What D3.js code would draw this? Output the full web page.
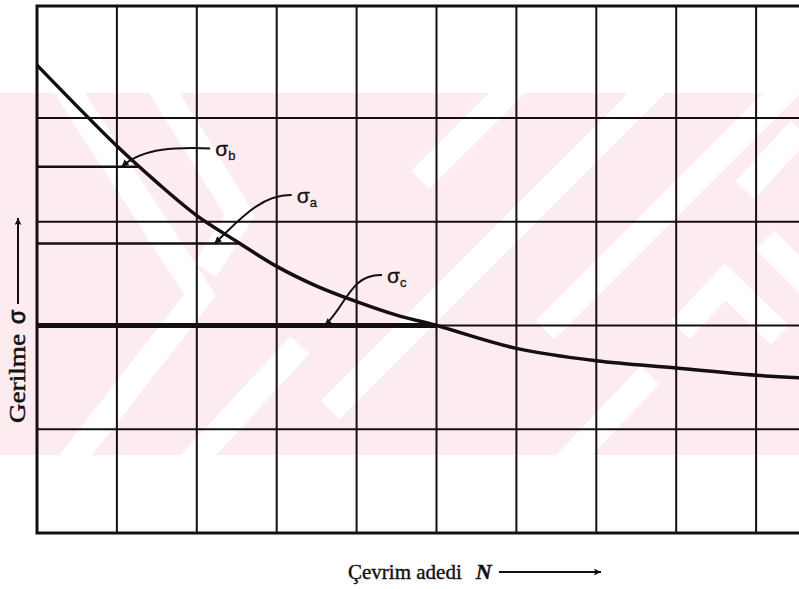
<!DOCTYPE html>
<html>
<head>
<meta charset="utf-8">
<script src="https://cdn.jsdelivr.net/npm/d3@7"></script>
<style>
  html, body { margin: 0; padding: 0; background: #ffffff; }
  svg { display: block; }
</style>
</head>
<body>
<svg id="chart" width="799" height="589"></svg>
<script>
// Fatigue (S-N) curve: stress against number of cycles
const cycles = [0, 1, 1.5, 2, 2.5, 3, 3.5, 4, 4.5, 5, 6, 7, 8, 9, 10];
const stress = [4.51, 3.73, 3.38, 3.06, 2.81, 2.57, 2.38, 2.23, 2.1, 2.0, 1.78, 1.66, 1.59, 1.52, 1.48];

// grid divisions
const xTicks = [0, 1, 2, 3, 4, 5, 6, 7, 8, 9, 10];
const yTicks = [0, 1, 2, 3, 4];

// stress levels marked on the curve
const levelNames = ["b", "a", "c"];
const levelValues = [3.53, 2.79, 2.0];

// label anchors (in cycles / stress units) and leader tips
const labelN = [2.23, 3.25, 4.38];
const labelS = [3.63, 3.18, 2.41];
const tipN = [1.06, 2.22, 3.6];

const W = 799, H = 589;
const svg = d3.select("#chart");

const x = d3.scaleLinear().domain([0, 10]).range([37, 836]);
const y = d3.scaleLinear().domain([0, 5.08]).range([533, 6]);

const ink = "#141010";

// ---- faint background pattern band ----
const defs = svg.append("defs");
defs.append("clipPath").attr("id", "band")
  .append("rect").attr("x", 0).attr("y", 93).attr("width", W).attr("height", 362);

const wm = svg.append("g").attr("clip-path", "url(#band)");
wm.append("rect").attr("x", 0).attr("y", 93).attr("width", W).attr("height", 362)
  .attr("fill", "#fdecef");
const stripes = [
  [[58, 75], [200, 295], [58, 478]],
  [[150, 70], [240, 215], [205, 270]],
  [[180, 475], [300, 345]],
  [[660, 80], [425, 315], [330, 410]],
  [[520, 80], [420, 180]],
  [[795, 80], [545, 330]],
  [[560, 470], [650, 375]],
  [[680, 330], [725, 282], [780, 335]],
  [[765, 240], [810, 285]],
  [[745, 190], [800, 130]]
];
wm.selectAll("path.stripe").data(stripes).join("path")
  .attr("class", "stripe")
  .attr("d", d3.line())
  .attr("fill", "none")
  .attr("stroke", "#ffffff")
  .attr("stroke-width", 26)
  .attr("stroke-linejoin", "miter");

// ---- grid ----
const grid = svg.append("g").attr("stroke", ink).attr("fill", "none");
grid.selectAll("line.v").data(xTicks.slice(1)).join("line")
  .attr("class", "v")
  .attr("x1", d => x(d)).attr("x2", d => x(d))
  .attr("y1", y(5.08)).attr("y2", y(0))
  .attr("stroke-width", 2);
grid.selectAll("line.h").data(yTicks.slice(1)).join("line")
  .attr("class", "h")
  .attr("x1", x(0)).attr("x2", W)
  .attr("y1", d => y(d)).attr("y2", d => y(d))
  .attr("stroke-width", 2);
// frame: top, left, bottom
grid.append("path")
  .attr("d", `M${W},${y(5.08)} H${x(0)} V${y(0)} H${W}`)
  .attr("stroke-width", 3);

// ---- curve ----
const pts = cycles.map((c, i) => [c, stress[i]]);
const line = d3.line().x(d => x(d[0])).y(d => y(d[1])).curve(d3.curveCatmullRom.alpha(0.5));
svg.append("path").datum(pts)
  .attr("d", line)
  .attr("fill", "none")
  .attr("stroke", ink)
  .attr("stroke-width", 3.5);

// cycles at which the curve reaches a given stress
function crossing(s) {
  for (let i = 0; i < pts.length - 1; i++) {
    const [c0, s0] = pts[i], [c1, s1] = pts[i + 1];
    if ((s0 - s) * (s1 - s) <= 0) return c0 + (s - s0) / (s1 - s0) * (c1 - c0);
  }
  return 0;
}

// ---- stress level lines ----
const levels = levelNames.map((n, i) => ({
  name: n, value: levelValues[i], lx: labelN[i], ly: labelS[i], tip: tipN[i]
}));
svg.selectAll("line.level").data(levels).join("line")
  .attr("class", "level")
  .attr("x1", x(0)).attr("x2", d => x(crossing(d.value)))
  .attr("y1", d => y(d.value)).attr("y2", d => y(d.value))
  .attr("stroke", ink)
  .attr("stroke-width", d => d.name === "c" ? 5 : 2.5);

// ---- arrowheads ----
defs.append("marker").attr("id", "head")
  .attr("viewBox", "0 0 10 10").attr("refX", 10).attr("refY", 5)
  .attr("markerWidth", 14).attr("markerHeight", 7)
  .attr("markerUnits", "userSpaceOnUse")
  .attr("orient", "auto")
  .append("path").attr("d", "M0,0 L10,5 L0,10 Z").attr("fill", ink);
defs.append("marker").attr("id", "headLong")
  .attr("viewBox", "0 0 10 10").attr("refX", 10).attr("refY", 5)
  .attr("markerWidth", 18).attr("markerHeight", 7)
  .attr("markerUnits", "userSpaceOnUse")
  .attr("orient", "auto")
  .append("path").attr("d", "M0,0 L10,5 L0,10 L2,5 Z").attr("fill", ink);

// leaders from labels to their level lines
svg.selectAll("path.leader").data(levels).join("path")
  .attr("class", "leader")
  .attr("d", d => {
    const sx = x(d.lx) - 5, sy = y(d.ly) - 8;
    const ex = x(d.tip), ey = y(d.value);
    return `M${sx},${sy} C${sx - 32},${sy - 1} ${ex + 22},${ey - 20} ${ex},${ey}`;
  })
  .attr("fill", "none")
  .attr("stroke", ink)
  .attr("stroke-width", 2)
  .attr("marker-end", "url(#head)");

// labels σ with subscripts
const lab = svg.selectAll("text.sig").data(levels).join("text")
  .attr("class", "sig")
  .attr("x", d => x(d.lx)).attr("y", d => y(d.ly))
  .attr("font-family", "Liberation Sans, Arial, sans-serif")
  .attr("font-size", 21)
  .attr("fill", ink)
  .attr("stroke", ink).attr("stroke-width", 0.3);
lab.append("tspan").text("σ");
lab.append("tspan").attr("dy", 4).attr("font-size", 13).text(d => d.name);

// ---- axis titles ----
const yt = svg.append("text")
  .attr("transform", "translate(25,423) rotate(-90)")
  .attr("font-family", "Liberation Serif, Times New Roman, serif")
  .attr("font-size", 23)
  .attr("fill", ink)
  .attr("stroke", ink).attr("stroke-width", 0.5);
yt.append("tspan").attr("textLength", 89).attr("lengthAdjust", "spacingAndGlyphs").text("Gerilme");
yt.append("tspan").attr("dx", 10)
  .attr("font-family", "Liberation Sans, Arial, sans-serif")
  .attr("stroke-width", 0.8).text("σ");
svg.append("line")
  .attr("x1", 18).attr("x2", 18).attr("y1", 304).attr("y2", 218)
  .attr("stroke", ink).attr("stroke-width", 2)
  .attr("marker-end", "url(#headLong)");

const xt = svg.append("text")
  .attr("x", 348).attr("y", 579)
  .attr("font-family", "Liberation Serif, Times New Roman, serif")
  .attr("font-size", 21)
  .attr("fill", ink)
  .attr("stroke", ink).attr("stroke-width", 0.4);
xt.append("tspan").text("Çevrim adedi");
xt.append("tspan").attr("dx", 14).attr("font-size", 22)
  .attr("font-style", "italic").attr("font-weight", "bold").text("N");
svg.append("line")
  .attr("x1", 499).attr("x2", 601).attr("y1", 572).attr("y2", 572)
  .attr("stroke", ink).attr("stroke-width", 2)
  .attr("marker-end", "url(#headLong)");
</script>
</body>
</html>
